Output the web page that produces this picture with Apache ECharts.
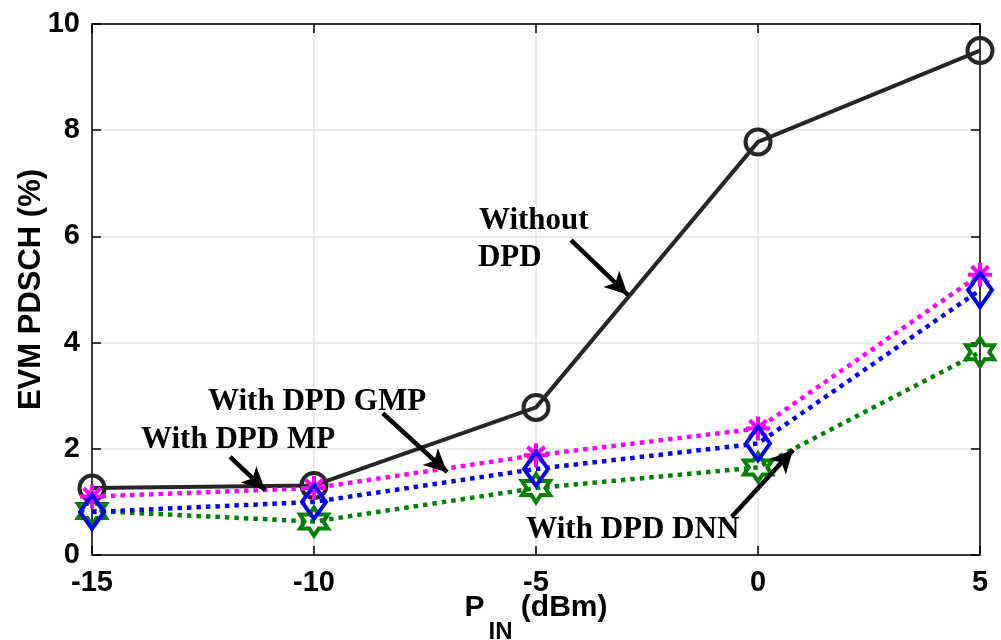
<!DOCTYPE html>
<html><head><meta charset="utf-8">
<script src="https://cdn.jsdelivr.net/npm/echarts@6/dist/echarts.min.js"></script>
<style>html,body{margin:0;padding:0;background:#fff}#c{width:1001px;height:640px}</style>
</head><body><div id="c"></div>
<script>
const xValues = [-15, -10, -5, 0, 5];
const withoutDPD = [1.26, 1.31, 2.78, 7.78, 9.50];
const withGMP = [1.10, 1.26, 1.88, 2.38, 5.28];
const withMP = [0.81, 1.00, 1.62, 2.10, 4.99];
const withDNN = [0.83, 0.63, 1.26, 1.65, 3.82];
const xTicks = [-15, -10, -5, 0, 5];
const yTicks = [0, 2, 4, 6, 8, 10];

const annotTexts = [
  {text: 'Without', coord: [-5.05, 6.29]},
  {text: 'DPD', coord: [-5.59, 5.59]},
  {text: 'With DPD GMP', coord: [-9.93, 2.88]},
  {text: 'With DPD MP', coord: [-11.71, 2.17]},
  {text: 'With DPD DNN', coord: [-2.82, 0.47]}
];
const arrows = [
  [[-4.21, 5.93], [-2.93, 4.90]],
  [[-8.45, 2.67], [-7.0, 1.56]],
  [[-11.89, 1.85], [-11.1, 1.22]],
  [[-0.59, 0.72], [0.79, 1.98]]
];

const pair = (arr) => xValues.map((x, i) => [x, arr[i]]);
const asterisk = 'path://M0,-10L0,10M-10,0L10,0M-7,-7L7,7M-7,7L7,-7';
const hexagram = 'path://M0,-12L3.46,-6L10.39,-6L6.93,0L10.39,6L3.46,6L0,12L-3.46,6L-10.39,6L-6.93,0L-10.39,-6L-3.46,-6Z';

const chart = echarts.init(document.getElementById('c'), null, {renderer: 'canvas'});
const tickLabel = {fontFamily: 'Liberation Sans, Arial', fontWeight: 'bold', fontSize: 29, color: '#000'};
const dotted = (color) => ({width: 4.5, color: color, type: [4.5, 5], cap: 'butt'});

chart.setOption({
  animation: false,
  grid: {left: 92, right: 21, top: 24, bottom: 85, containLabel: false, outerBoundsMode: 'none'},
  xAxis: [{
    type: 'value', min: -15, max: 5, interval: 5,
    axisLine: {show: true, onZero: false, lineStyle: {color: '#000', width: 1.5}},
    axisTick: {show: true, inside: true, length: 9, lineStyle: {color: '#000', width: 1.5}},
    axisLabel: Object.assign({margin: 13, formatter: v => xTicks.includes(v) ? String(v) : ''}, tickLabel),
    splitLine: {show: true, lineStyle: {color: '#e3e3e3', width: 1.5}},
    name: '{p|P}{s|IN}{p| (dBm)}', nameLocation: 'middle', nameGap: 17, nameMoveOverlap: false,
    nameTextStyle: {rich: {
      p: {fontFamily: 'Liberation Sans, Arial', fontWeight: 'bold', fontSize: 30, color: '#000'},
      s: {fontFamily: 'Liberation Sans, Arial', fontWeight: 'bold', fontSize: 24, color: '#000', padding: [48, 0, 0, 4]}
    }}
  }, {
    type: 'value', min: -15, max: 5, interval: 5, position: 'top',
    axisLine: {show: true, onZero: false, lineStyle: {color: '#000', width: 1.5}},
    axisTick: {show: true, inside: true, length: 9, lineStyle: {color: '#000', width: 1.5}},
    axisLabel: {show: false}, splitLine: {show: false}
  }],
  yAxis: [{
    type: 'value', min: 0, max: 10, interval: 2,
    axisLine: {show: true, onZero: false, lineStyle: {color: '#000', width: 1.5}},
    axisTick: {show: true, inside: true, length: 9, lineStyle: {color: '#000', width: 1.5}},
    axisLabel: Object.assign({margin: 12, formatter: v => yTicks.includes(v) ? String(v) : ''}, tickLabel),
    splitLine: {show: true, lineStyle: {color: '#e3e3e3', width: 1.5}},
    name: 'EVM PDSCH (%)', nameLocation: 'middle', nameGap: 45, nameMoveOverlap: false,
    nameTextStyle: {fontFamily: 'Liberation Sans, Arial', fontWeight: 'bold', fontSize: 31, color: '#000'}
  }, {
    type: 'value', min: 0, max: 10, interval: 2, position: 'right',
    axisLine: {show: true, onZero: false, lineStyle: {color: '#000', width: 1.5}},
    axisTick: {show: true, inside: true, length: 9, lineStyle: {color: '#000', width: 1.5}},
    axisLabel: {show: false}, splitLine: {show: false}
  }],
  series: [
    {
      name: 'With DPD DNN', type: 'line', data: pair(withDNN), z: 3,
      lineStyle: dotted('#008000'),
      symbol: hexagram, symbolSize: 28, showAllSymbol: true,
      itemStyle: {color: 'rgba(0,0,0,0)', borderColor: '#008000', borderWidth: 4}
    },
    {
      name: 'With DPD MP', type: 'line', data: pair(withMP), z: 4,
      lineStyle: dotted('#0000ff'),
      symbol: 'diamond', symbolSize: [24, 34],
      itemStyle: {color: 'rgba(0,0,0,0)', borderColor: '#0000ff', borderWidth: 4}
    },
    {
      name: 'With DPD GMP', type: 'line', data: pair(withGMP), z: 3,
      lineStyle: dotted('#ff00ff'),
      symbol: asterisk, symbolSize: 24,
      itemStyle: {color: 'rgba(0,0,0,0)', borderColor: '#ff00ff', borderWidth: 4}
    },
    {
      name: 'Without DPD', type: 'line', data: pair(withoutDPD), z: 2,
      lineStyle: {width: 4, color: '#262626'},
      symbol: 'circle', symbolSize: 25,
      itemStyle: {color: 'rgba(0,0,0,0)', borderColor: '#262626', borderWidth: 4}
    },
    {
      name: 'annot', type: 'line', data: [], z: 6, silent: true,
      markLine: {
        silent: true, animation: false,
        symbol: ['none', 'arrow'], symbolSize: [17, 23],
        lineStyle: {color: '#000', width: 4.5, type: 'solid'},
        label: {show: false},
        data: arrows.map(a => [{coord: a[0]}, {coord: a[1]}])
      },
      markPoint: {
        silent: true, animation: false,
        symbol: 'circle', symbolSize: 1,
        itemStyle: {color: 'rgba(0,0,0,0)'},
        data: annotTexts.map(t => ({
          coord: t.coord,
          label: {
            show: true, position: 'inside', formatter: t.text,
            fontFamily: 'Liberation Serif, Times New Roman', fontWeight: 'bold', fontSize: 31,
            color: '#000', align: 'center'
          }
        }))
      }
    }
  ]
});
</script></body></html>
